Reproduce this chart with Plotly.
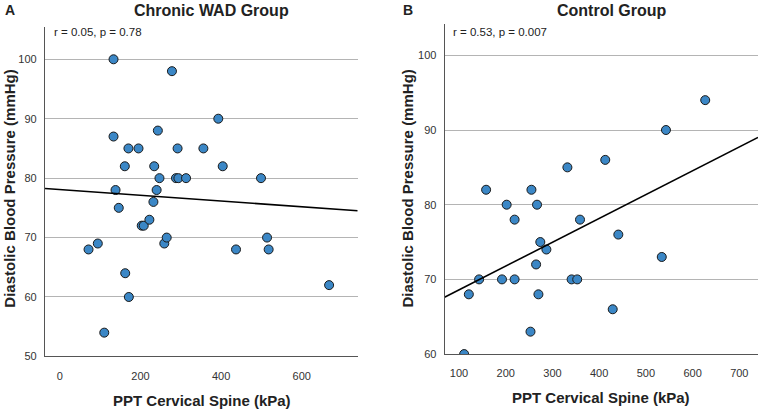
import plotly.graph_objects as go

# --- Data ---
# Panel A: Chronic WAD group
wad_ppt = [133, 278, 393, 133, 243, 170, 195, 292, 356, 161, 234, 404,
           247, 288, 294, 313, 499, 138, 240, 232,
           146, 203, 208, 222, 71, 94, 259, 265, 437, 514, 518, 162, 171, 110, 668]
wad_dbp = [100, 98, 90, 87, 88, 85, 85, 85, 85, 82, 82, 82,
           80, 80, 80, 80, 80, 78, 78, 76,
           75, 72, 72, 73, 68, 69, 69, 70, 68, 70, 68, 64, 60, 54, 62]
wad_fit_x = [-37, 739]
wad_fit_y = [78.27, 74.5]

# Panel B: Control group
ctl_ppt = [627, 543, 413, 332, 158, 255, 202, 267,
           219, 359, 441, 274, 287, 534, 265, 143, 192, 219, 341, 353,
           121, 270, 429, 253, 111]
ctl_dbp = [94, 90, 86, 85, 82, 82, 80, 80,
           78, 78, 76, 75, 74, 73, 72, 70, 70, 70, 70, 70,
           68, 68, 66, 63, 60]
ctl_fit_x = [69, 740]
ctl_fit_y = [67.6, 89.0]

FONT = "Arial, Liberation Sans, sans-serif"
DOT = "#3b87c6"
GRID = "#b4b4b4"
AXIS = "#555555"

fig = go.Figure()

marker = dict(size=9, color=DOT, line=dict(color="#1a1a1a", width=1))

fig.add_trace(go.Scatter(x=wad_ppt, y=wad_dbp, mode="markers", marker=marker,
                         xaxis="x", yaxis="y", showlegend=False))
fig.add_trace(go.Scatter(x=wad_fit_x, y=wad_fit_y, mode="lines",
                         line=dict(color="black", width=1.6),
                         xaxis="x", yaxis="y", showlegend=False))
fig.add_trace(go.Scatter(x=ctl_ppt, y=ctl_dbp, mode="markers", marker=marker,
                         xaxis="x2", yaxis="y2", showlegend=False))
fig.add_trace(go.Scatter(x=ctl_fit_x, y=ctl_fit_y, mode="lines",
                         line=dict(color="black", width=1.6),
                         xaxis="x2", yaxis="y2", showlegend=False))

common_x = dict(showgrid=False, zeroline=False, showline=True, linecolor=AXIS,
                linewidth=1.2, ticks="", ticklabelstandoff=9,
                ticklabeloverflow="allow",
                tickfont=dict(size=11, color="#333", family=FONT))
common_y = dict(showgrid=True, gridcolor=GRID, gridwidth=1, zeroline=False,
                showline=True, linecolor=AXIS, linewidth=1.2, ticks="",
                ticklabelstandoff=5,
                tickfont=dict(size=11, color="#333", family=FONT))

fig.update_layout(
    width=758, height=412,
    margin=dict(l=0, r=0, t=0, b=0),
    paper_bgcolor="white", plot_bgcolor="white",
    font=dict(family=FONT, color="#222"),
    xaxis=dict(domain=[0.0594, 0.4719], range=[-37, 739],
               tickvals=[0, 200, 400, 600], anchor="y", **common_x),
    yaxis=dict(domain=[0.1221, 0.9345], range=[50, 105.5],
               tickvals=[50, 60, 70, 80, 90, 100], anchor="x", **common_y),
    xaxis2=dict(domain=[0.5867, 1.0], range=[69.4, 740],
                tickvals=[100, 200, 300, 400, 500, 600, 700], anchor="y2", **common_x),
    yaxis2=dict(domain=[0.1279, 0.941], range=[60, 104.2],
                tickvals=[60, 70, 80, 90, 100], anchor="x2", **common_y),
)

bold = dict(family=FONT, size=15, color="#222")
annotations = [
    dict(text="<b>A</b>", x=0.004, y=1.0, xanchor="left", yanchor="top",
         font=dict(family=FONT, size=14, color="#222")),
    dict(text="<b>Chronic WAD Group</b>", x=0.279, y=1.0, xanchor="center",
         yanchor="top", font=dict(family=FONT, size=16, color="#222")),
    dict(text="<b>B</b>", x=0.529, y=1.0, xanchor="left", yanchor="top",
         font=dict(family=FONT, size=14, color="#222")),
    dict(text="<b>Control Group</b>", x=0.807, y=1.0, xanchor="center",
         yanchor="top", font=dict(family=FONT, size=16, color="#222")),
    dict(text="r = 0.05, p = 0.78", x=0.068, y=0.92, xanchor="left",
         yanchor="middle", font=dict(family=FONT, size=11.5, color="#222")),
    dict(text="r = 0.53, p = 0.007", x=0.595, y=0.92, xanchor="left",
         yanchor="middle", font=dict(family=FONT, size=11.5, color="#222")),
    dict(text="<b>PPT Cervical Spine (kPa)</b>", x=0.266, y=0.0, yshift=-5,
         xanchor="center", yanchor="bottom", font=bold),
    dict(text="<b>PPT Cervical Spine (kPa)</b>", x=0.793, y=0.0, yshift=-2,
         xanchor="center", yanchor="bottom", font=bold),
    dict(text="<b>Diastolic Blood Pressure (mmHg)</b>", x=0.013, y=0.535,
         textangle=-90, xanchor="center", yanchor="middle", font=bold),
    dict(text="<b>Diastolic Blood Pressure (mmHg)</b>", x=0.538, y=0.535,
         textangle=-90, xanchor="center", yanchor="middle", font=bold),
]
for a in annotations:
    a.update(xref="paper", yref="paper", showarrow=False)
fig.update_layout(annotations=annotations)

# the page body has a default 8px margin; drop it so the figure fills the window
fig.write_html("out.html", config={"displayModeBar": False},
               post_script="document.body.style.margin='0';")
